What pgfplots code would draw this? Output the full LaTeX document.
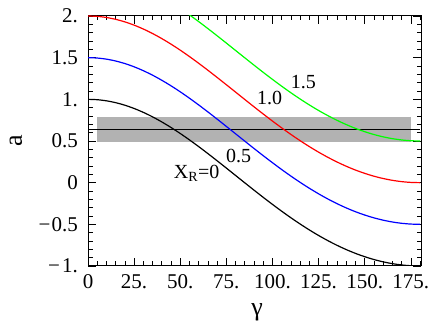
\documentclass[border=0pt]{standalone}
\usepackage{pgfplots}
\pgfplotsset{compat=1.18}
\usepackage{pgfplotstable}
\usepackage{fontspec}
\setmainfont{Liberation Serif}
\pgfplotstableread{
g c0 c05 c10 c15
0 1.0000 1.5000 2.0000 2.5000
5 0.9955 1.4955 1.9955 2.4955
10 0.9821 1.4821 1.9821 2.4821
15 0.9599 1.4599 1.9599 2.4599
20 0.9292 1.4292 1.9292 2.4292
25 0.8902 1.3902 1.8902 2.3902
30 0.8435 1.3435 1.8435 2.3435
35 0.7896 1.2896 1.7896 2.2896
40 0.7288 1.2288 1.7288 2.2288
45 0.6621 1.1621 1.6621 2.1621
50 0.5900 1.0900 1.5900 2.0900
55 0.5132 1.0132 1.5132 2.0132
60 0.4325 0.9325 1.4325 1.9325
65 0.3487 0.8487 1.3487 1.8487
70 0.2625 0.7625 1.2625 1.7625
75 0.1748 0.6748 1.1748 1.6748
80 0.0863 0.5863 1.0863 1.5863
85 -0.0021 0.4979 0.9979 1.4979
90 -0.0900 0.4100 0.9100 1.4100
95 -0.1765 0.3235 0.8235 1.3235
100 -0.2609 0.2391 0.7391 1.2391
105 -0.3428 0.1572 0.6572 1.1572
110 -0.4215 0.0785 0.5785 1.0785
115 -0.4965 0.0035 0.5035 1.0035
120 -0.5675 -0.0675 0.4325 0.9325
125 -0.6340 -0.1340 0.3660 0.8660
130 -0.6956 -0.1956 0.3044 0.8044
135 -0.7521 -0.2521 0.2479 0.7479
140 -0.8032 -0.3032 0.1968 0.6968
145 -0.8488 -0.3488 0.1512 0.6512
150 -0.8885 -0.3885 0.1115 0.6115
155 -0.9224 -0.4224 0.0776 0.5776
160 -0.9502 -0.4502 0.0498 0.5498
165 -0.9719 -0.4719 0.0281 0.5281
170 -0.9875 -0.4875 0.0125 0.5125
175 -0.9969 -0.4969 0.0031 0.5031
180 -1.0000 -0.5000 0.0000 0.5000
}\curves
\pgfplotstableread{
g m
0 0.64
180 0.64
}\midline
\begin{document}
\begin{tikzpicture}
\path (0pt,0pt) rectangle (436pt,329pt);
\begin{axis}[
  at={(88pt,63pt)}, anchor=south west,
  scale only axis, width=333pt, height=250pt,
  xmin=0, xmax=180.5, ymin=-1, ymax=2,
  axis line style={line width=1pt},
  xtick={0,25,...,175},
  xticklabels={0,25.,50.,75.,100.,125.,150.,175.},
  minor xtick={0,5,...,180},
  ytick={-1,-0.5,0,0.5,1,1.5,2},
  yticklabels={−\kern2pt1.,−\kern1pt0.5,0,0.5,1.,1.5,2.},
  minor ytick={-1,-0.9,...,2},
  tick align=inside,
  major tick length=8pt, minor tick length=4.5pt,
  every tick/.style={black, line width=0.7pt},
  ticklabel style={font=\fontsize{21}{21}\selectfont, inner sep=0pt},
  yticklabel style={anchor=east, xshift=-10pt},
  xticklabel style={anchor=north, yshift=-8.5pt},
  clip=true,
]
\addplot[fill=black!30, draw=none] coordinates {(5,0.49) (175,0.49) (175,0.79) (5,0.79)} -- cycle;
\addplot[black, line width=0.9pt] table[x=g, y=m] {\midline};
\addplot[black, line width=1.2pt, smooth] table[x=g, y=c0] {\curves};
\addplot[blue, line width=1.2pt, smooth] table[x=g, y=c05] {\curves};
\addplot[red, line width=1.2pt, smooth] table[x=g, y=c10] {\curves};
\addplot[green, line width=1.2pt, smooth] table[x=g, y=c15] {\curves};
\node[font=\fontsize{20}{20}\selectfont] at (axis cs:116.8,1.21) {1.5};
\node[font=\fontsize{20}{20}\selectfont] at (axis cs:98.4,1.02) {1.0};
\node[font=\fontsize{20}{20}\selectfont] at (axis cs:81.6,0.32) {0.5};
\node[font=\fontsize{20}{20}\selectfont] at (axis cs:58.9,0.116) {X\textsubscript{R}=0};
\end{axis}
\node[font=\fontsize{26}{26}\selectfont, rotate=90] at (16pt,188pt) {a};
\node[font=\fontsize{26}{26}\selectfont] at (257pt,17pt) {γ};
\end{tikzpicture}
\end{document}
